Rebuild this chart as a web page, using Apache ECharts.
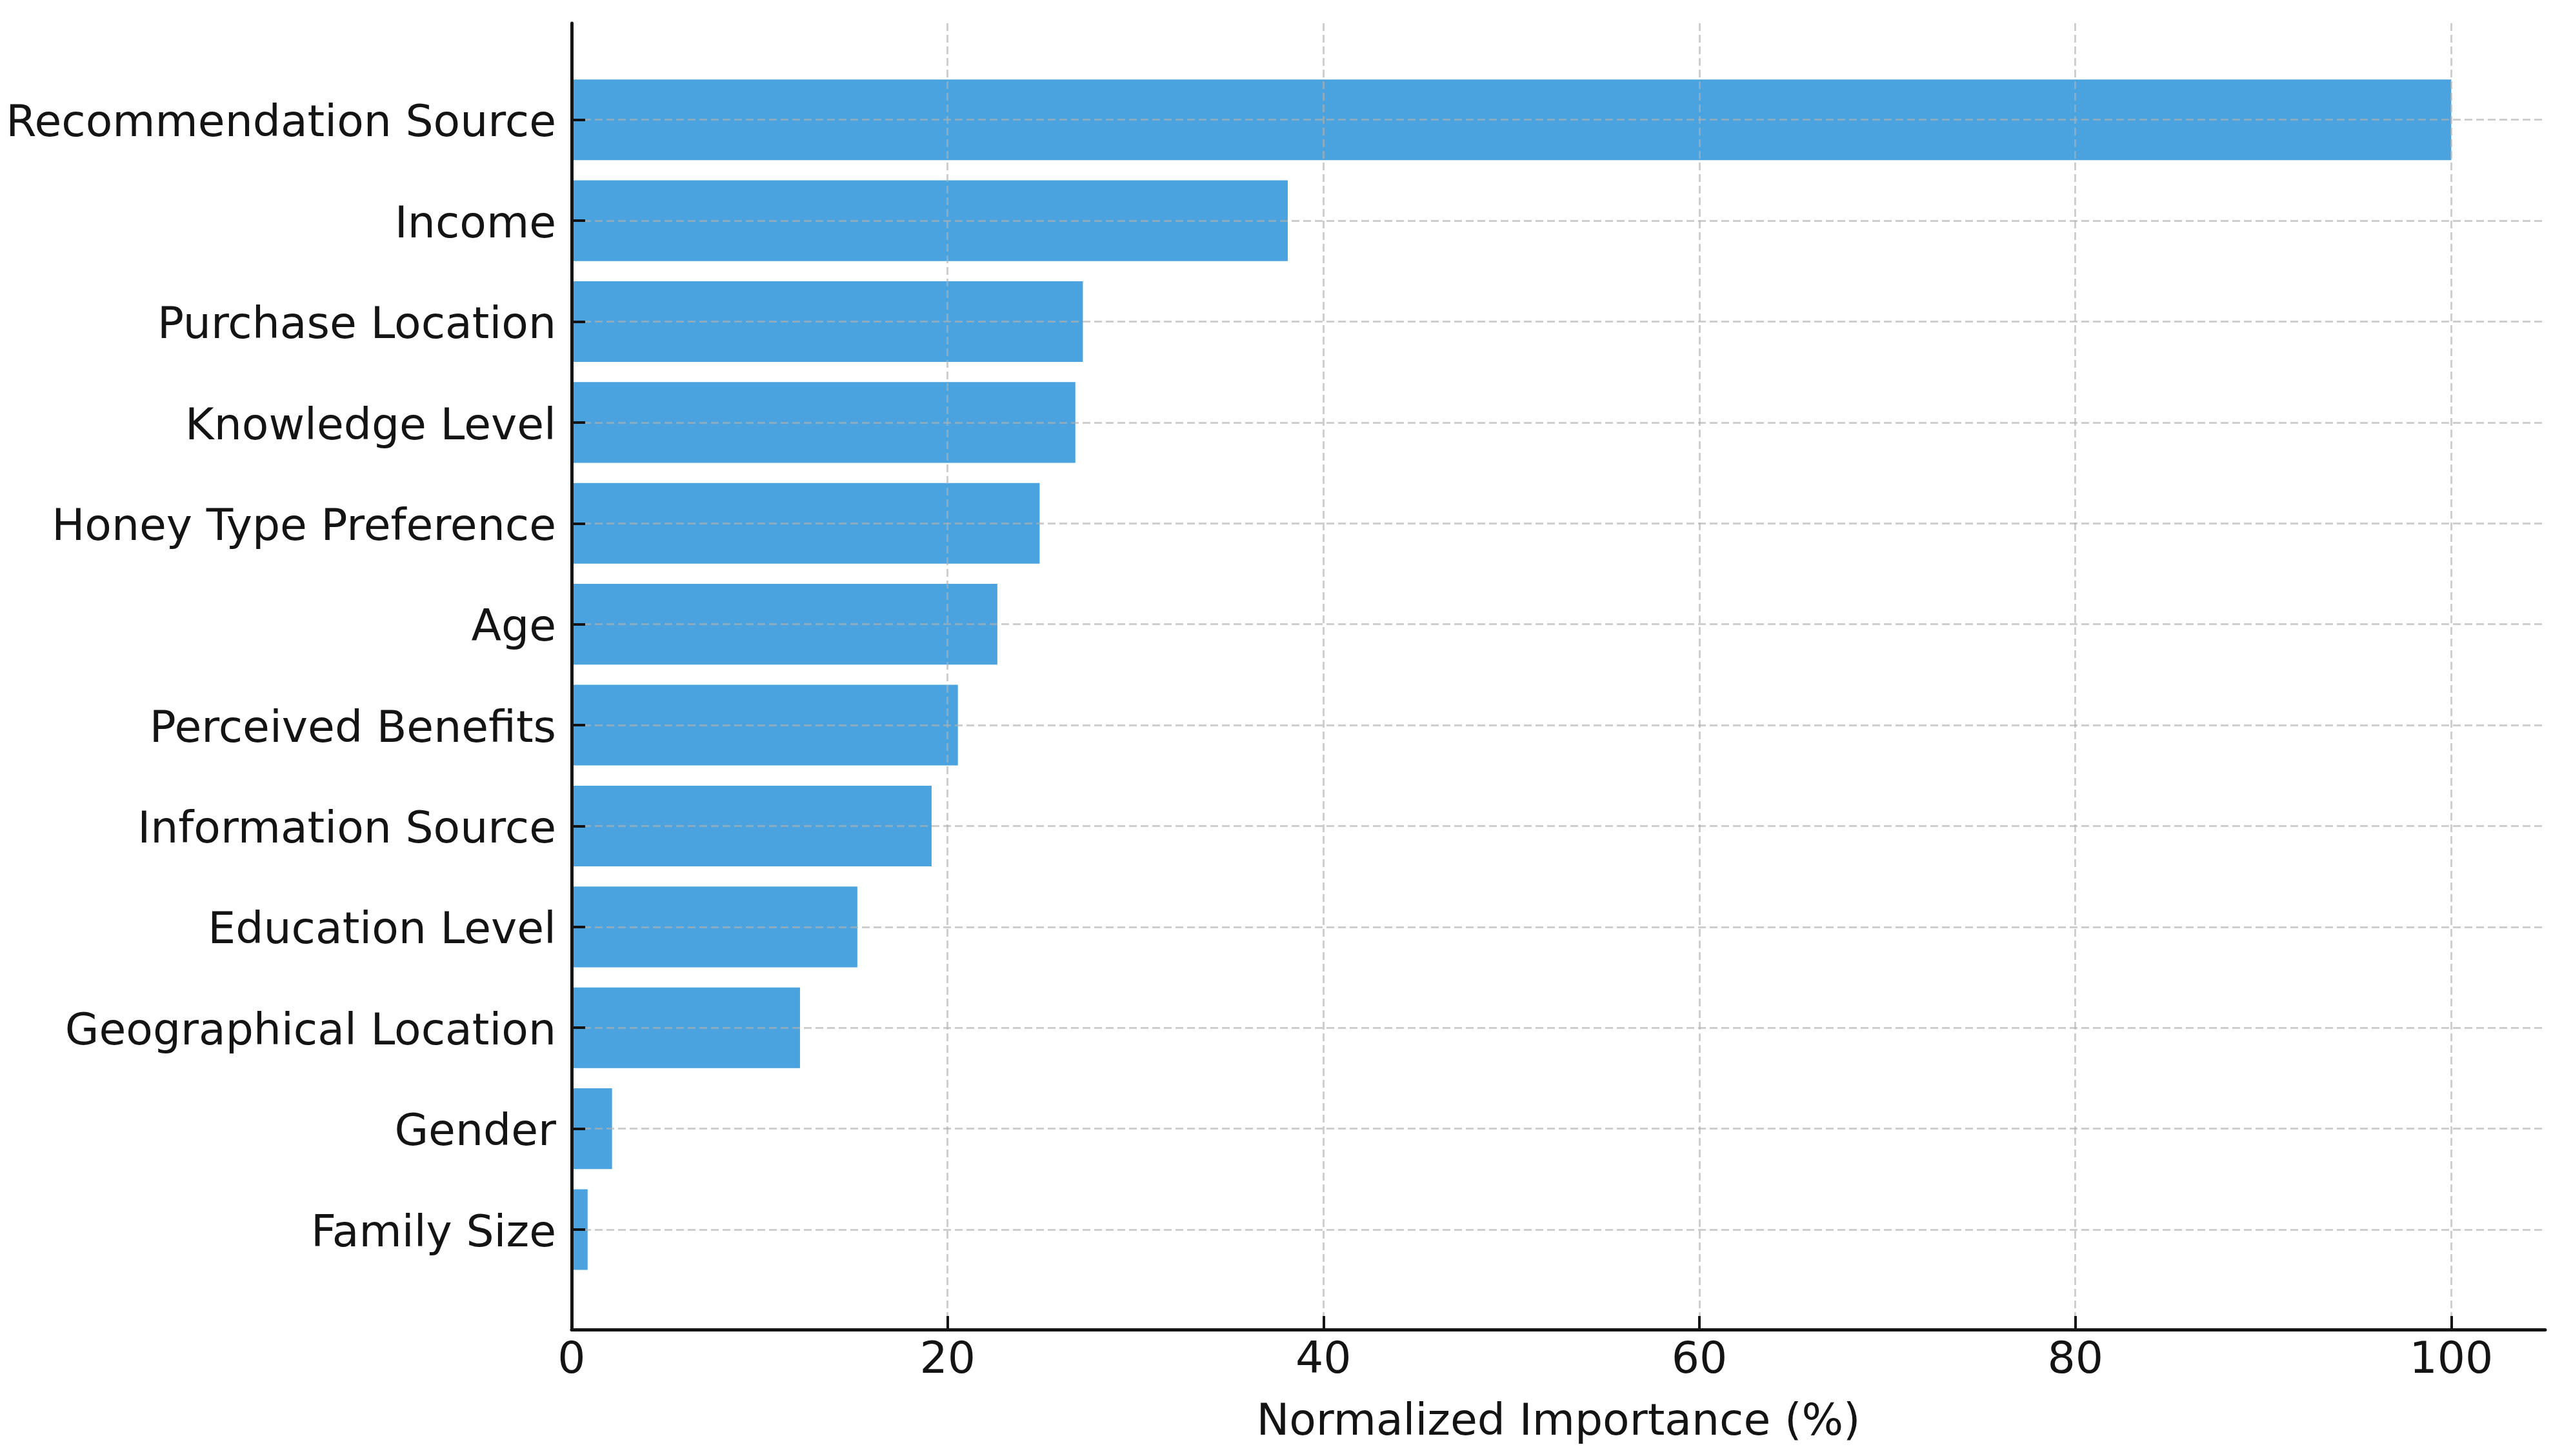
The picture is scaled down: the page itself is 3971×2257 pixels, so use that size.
<!DOCTYPE html>
<html>
<head>
<meta charset="utf-8">
<script src="https://cdn.jsdelivr.net/npm/echarts@6/dist/echarts.min.js"></script>
<style>
html,body{margin:0;padding:0;background:#fff;}
#chart{width:3971px;height:2257px;}
</style>
</head>
<body>
<div id="chart"></div>
<script>
const categories = [
  "Recommendation Source", "Income", "Purchase Location", "Knowledge Level",
  "Honey Type Preference", "Age", "Perceived Benefits", "Information Source",
  "Education Level", "Geographical Location", "Gender", "Family Size"
];
const importance = [100, 38.1, 27.2, 26.8, 24.9, 22.65, 20.55, 19.15, 15.2, 12.15, 2.15, 0.85];
const xTicks = [0, 20, 40, 60, 80, 100];
const xAxisTitle = "Normalized Importance (%)";

const FONT = "DejaVu Sans";
const FS = 68;
const TXT = "#141414";
const GRIDC = "rgba(176,176,176,0.62)";
const L = 886, R = 26;

const chart = echarts.init(document.getElementById('chart'), null, {renderer: 'canvas'});
chart.setOption({
  animation: false,
  backgroundColor: '#ffffff',
  grid: [
    {left: L, right: R, top: 36, bottom: 196, outerBoundsMode: 'none', containLabel: false},
    {left: L, right: R, top: 107.5, height: 1876.7, outerBoundsMode: 'none', containLabel: false},
    {left: L, right: R, top: 185.7, height: 1720.3, outerBoundsMode: 'none', containLabel: false}
  ],
  xAxis: [
    {
      gridIndex: 0, type: 'value', min: 0, max: 105, interval: 20, z: 5,
      axisLine: {show: true, onZero: false, lineStyle: {color: TXT, width: 5}},
      axisTick: {show: true, inside: true, length: 21, lineStyle: {color: TXT, width: 4}, customValues: xTicks},
      axisLabel: {show: true, margin: 15, fontSize: FS, fontFamily: FONT, color: TXT,
        formatter: function (v) { return v > 100 ? '' : String(v); }},
      splitLine: {show: true, lineStyle: {color: GRIDC, width: 3, type: [12, 6]}},
      name: xAxisTitle, nameLocation: 'middle', nameGap: 111,
      nameTextStyle: {fontSize: FS, fontFamily: FONT, color: TXT}
    },
    {gridIndex: 1, type: 'value', min: 0, max: 105, show: false},
    {gridIndex: 2, type: 'value', min: 0, max: 105, show: false}
  ],
  yAxis: [
    {
      gridIndex: 0, type: 'value', min: 0, max: 1, z: 5,
      axisLine: {show: true, onZero: false, lineStyle: {color: TXT, width: 5}},
      axisTick: {show: false}, axisLabel: {show: false}, splitLine: {show: false}
    },
    {
      gridIndex: 1, type: 'category', data: categories, inverse: true, show: false
    },
    {
      gridIndex: 2, type: 'category', data: categories, inverse: true, boundaryGap: false, z: 5,
      axisLine: {show: false},
      axisTick: {show: true, inside: true, length: 21, lineStyle: {color: TXT, width: 4}},
      axisLabel: {show: true, margin: 24, fontSize: FS, fontFamily: FONT, color: TXT, interval: 0,
        verticalAlign: 'top', lineHeight: 16},
      splitLine: {show: true, interval: 0, lineStyle: {color: GRIDC, width: 3, type: [12, 6]}}
    }
  ],
  series: [
    {
      type: 'bar', xAxisIndex: 1, yAxisIndex: 1, data: importance,
      barWidth: '80%', z: 2,
      itemStyle: {color: '#4aa3df'}
    }
  ]
});
</script>
</body>
</html>
